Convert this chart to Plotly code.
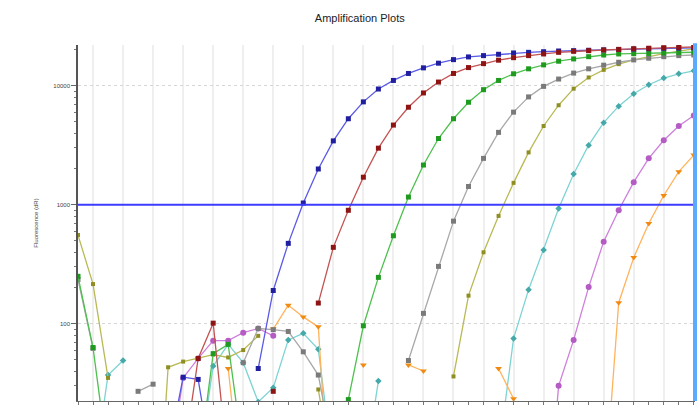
import plotly.graph_objects as go

cycles = list(range(1, 43))
N = None

blue = [N, N, N, N, N, N, 8, 35.5, 34, 6, N, N, 42, 190, 473, 1033, 1995, 3436, 5275, 7310,
        9380, 11070, 12670, 14125, 15460, 16560, 17450, 17900, 18370, 18840, 19070, 19300,
        19570, 19700, 19850, 20000, 20150, 20300, 20450, 20600, 20700, 20800]
red = [N, N, N, N, N, N, N, 7, 51, 101, 6, N, N, 27, N, N, 149, 438, 897, 1702,
       2985, 4667, 6590, 8690, 10730, 12670, 14200, 15330, 16380, 17200, 17900, 18480,
       19070, 19450, 19700, 19950, 20200, 20450, 20650, 20850, 21000, 21150]
green = [250, 63, 7, N, N, N, N, N, 6, 56, 67, 8, N, N, N, N, N, N, 23, 96,
         245, 548, 1159, 2154, 3597, 5275, 7260, 9260, 11070, 12590, 13860, 14960,
         16060, 16790, 17540, 18110, 18480, 18570, 18700, 18840, 18970, 19100]
gray = [235, 62, N, N, 27, 31, N, N, N, N, N, 47, 91, 89, 86, 58, 37, 8, N, N,
        N, N, 49, 122, 303, 727, 1422, 2450, 4052, 5995, 8050, 9870,
        11370, 12760, 13860, 14870, 15740, 16470, 17010, 17540, 17900, 18110]
olive = [555, 215, 35, N, N, 0.5, 43, 48, 51, 55, 52, 60, 79, N, N, N, 28, 5, N, N,
         N, N, N, N, N, 36, 172, 398, 805, 1525, 2750, 4585,
         6850, 9440, 11730, 13590, 15170, 16470, 17540, 18600, 19500, 20400]
teal = [N, 5, 37, 49, N, N, N, N, 6, 44, 67, 47, 22, 29, 73, 83, 61, 6, N, 5,
        33, N, N, N, N, N, N, N, 8, 75, 193, 416,
        927, 1811, 3162, 4890, 6730, 8570, 10190, 11590, 12590, 13340]
purple = [N, N, N, N, N, N, 5, 35, 51, 72, 72, 84, 91, 79, N, N, N, N, N, N,
          N, N, N, N, N, N, N, N, N, N, N, 1,
          30, 73, 203, 489, 897, 1545, 2450, 3480, 4585, 5620]
orange = [N, N, N, N, N, N, N, N, N, N, 42, 3, N, 90, 143, 114, 94, 1, N, 45,
          N, N, 45, 40, N, N, N, N, 42, 23.4, N, N,
          N, N, N, 3, 150, 359, 695, 1195, 1895, 2610]

threshold = 1000
y_ticks = [100, 1000, 10000]
y_tick_labels = ["100", "1000", "10000"]

series = [
    ("teal", teal, "#7fd3d3", "#45a9a9", "diamond", 5),
    ("orange", orange, "#ffb35c", "#f08a10", "triangle-down", 6),
    ("purple", purple, "#cf7fdc", "#b45cc4", "circle", 6),
    ("olive", olive, "#b9b955", "#8e8e22", "square", 4),
    ("gray", gray, "#a8a8a8", "#7a7a7a", "square", 5),
    ("green", green, "#4fc04f", "#1e9a1e", "square", 5),
    ("blue", blue, "#5a5ae6", "#1f1fa0", "square", 5),
    ("red", red, "#c35353", "#8e1414", "square", 5),
]

fig = go.Figure()
for name, vals, lc, mc, sym, ms in series:
    fig.add_trace(go.Scatter(
        x=cycles, y=vals, mode="lines+markers", name=name,
        line=dict(color=lc, width=1.3),
        marker=dict(color=mc, symbol=sym, size=ms, line=dict(width=0)),
        connectgaps=False, showlegend=False,
    ))

fig.add_trace(go.Scatter(
    x=[1, 42.08], y=[threshold, threshold], mode="lines",
    line=dict(color="#3c3cff", width=2), showlegend=False, hoverinfo="skip",
))

fig.add_shape(type="line", xref="paper", yref="paper", x0=1, x1=1, y0=0, y1=1.005,
              line=dict(color="#5aaaff", width=4))

minor_y = [v * m for v in (10, 100, 1000, 10000) for m in range(2, 10)]
fig.update_layout(
    width=700, height=408,
    margin=dict(l=78, r=5, t=45, b=4),
    paper_bgcolor="white", plot_bgcolor="white",
    font=dict(family="Liberation Sans, Arial, sans-serif", color="#333"),
    title=dict(text="Amplification Plots", x=0.514, xanchor="center",
               y=1 - 18 / 408, yanchor="middle",
               font=dict(size=11, color="#222")),
    xaxis=dict(
        range=[1, 42.08], showticklabels=False,
        tickmode="array", tickvals=list(range(2, 43, 2)),
        ticks="outside", ticklen=3, tickcolor="#777",
        showgrid=True, gridcolor="#efefef", gridwidth=1.5,
        showline=True, linecolor="#666", linewidth=1.2, zeroline=False,
        minor=dict(tickmode="array", tickvals=list(range(1, 43, 2)),
                   ticks="outside", ticklen=3, tickcolor="#777", showgrid=False),
    ),
    yaxis=dict(
        type="log", range=[1.35, 4.342],
        tickmode="array", tickvals=y_ticks, ticktext=y_tick_labels,
        tickfont=dict(size=6, color="#444"),
        ticks="outside", ticklen=5, tickcolor="#666",
        showgrid=True, gridcolor="#d6d6d6", griddash="dot", gridwidth=1,
        showline=True, linecolor="#555", linewidth=1.5, zeroline=False,
        title=dict(text="Fluorescence (dR)", font=dict(size=6, color="#444"), standoff=14),
        minor=dict(tickmode="array", tickvals=minor_y, ticks="outside",
                   ticklen=2, tickcolor="#777", showgrid=False),
    ),
)

fig.write_html("out.html", config={"displayModeBar": False},
               post_script="document.body.style.margin='0';document.body.style.overflow='hidden';")
